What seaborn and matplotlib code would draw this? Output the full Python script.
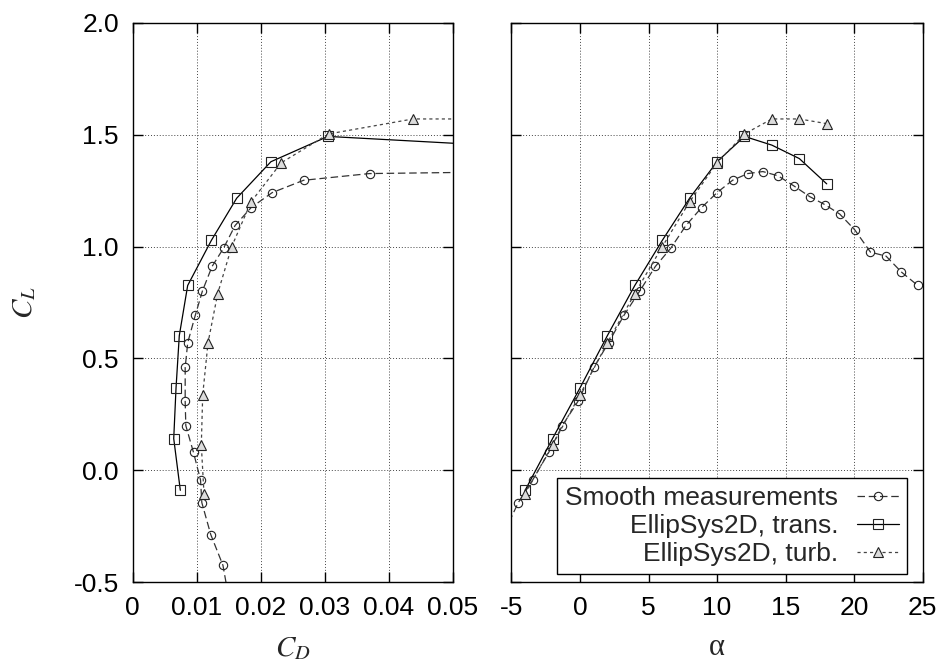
import numpy as np
import pandas as pd
import seaborn as sns
import matplotlib.pyplot as plt
from matplotlib.ticker import FuncFormatter

nan = np.nan

# Smooth measurements
meas_alpha = [-7.8, -6.7, -5.6, -4.5, -3.45, -2.28, -1.29, -0.15, 1.02, 2.09,
              3.23, 4.37, 5.5, 6.63, 7.73, 8.87, 10.0, 11.13, 12.24, 13.34,
              14.45, 15.6, 16.76, 17.9, 18.95, 20.04, 21.19, 22.33, 23.45, 24.64]
meas_cl = [-0.60, -0.424, -0.287, -0.144, -0.043, 0.080, 0.200, 0.308, 0.460, 0.571,
           0.695, 0.802, 0.911, 0.993, 1.094, 1.174, 1.241, 1.296, 1.326, 1.335,
           1.316, 1.271, 1.223, 1.186, 1.145, 1.075, 0.975, 0.957, 0.886, 0.826]
meas_cd = [0.0152, 0.0141, 0.0122, 0.0108, 0.0106, 0.0095, 0.0083, 0.0082, 0.0082, 0.0086,
           0.0098, 0.0109, 0.0124, 0.0142, 0.0160, 0.0185, 0.0218, 0.0267, 0.0370, 0.062,
           nan, nan, nan, nan, nan, nan, nan, nan, nan, nan]

# EllipSys2D, transitional
trans_alpha = [-4, -2, 0, 2, 4, 6, 8, 10, 12, 14, 16, 18]
trans_cl = [-0.089, 0.142, 0.368, 0.602, 0.826, 1.027, 1.216, 1.379, 1.492, 1.453, 1.393, 1.280]
trans_cd = [0.00744, 0.00641, 0.00677, 0.00728, 0.00859, 0.01228, 0.01625, 0.0216,
            0.0305, 0.0555, nan, nan]

# EllipSys2D, fully turbulent
turb_alpha = [-4, -2, 0, 2, 4, 6, 8, 10, 12, 14, 16, 18]
turb_cl = [-0.105, 0.114, 0.338, 0.570, 0.790, 0.999, 1.200, 1.374, 1.503, 1.570, 1.570, 1.549]
turb_cd = [0.01114, 0.01072, 0.01094, 0.01177, 0.01328, 0.01546, 0.0185, 0.0232,
           0.0306, 0.0438, 0.062, nan]

labels = ['Smooth measurements', 'EllipSys2D, trans.', 'EllipSys2D, turb.']

df_meas = pd.DataFrame({'alpha': meas_alpha, 'cl': meas_cl, 'cd': meas_cd})
df_trans = pd.DataFrame({'alpha': trans_alpha, 'cl': trans_cl, 'cd': trans_cd})
df_turb = pd.DataFrame({'alpha': turb_alpha, 'cl': turb_cl, 'cd': turb_cd})

sns.set_style('ticks')
plt.rcParams['font.family'] = ['Liberation Sans', 'DejaVu Sans']
plt.rcParams['mathtext.fontset'] = 'stix'
plt.rcParams['axes.unicode_minus'] = False
plt.rcParams['axes.axisbelow'] = True

styles = [
    dict(color='#333333', linestyle=(0, (6, 3)), marker='o', markersize=6,
         markerfacecolor='none', markeredgecolor='#222222', markeredgewidth=0.8),
    dict(color='black', linestyle='-', marker='s', markersize=7,
         markerfacecolor='none', markeredgecolor='#222222', markeredgewidth=0.8),
    dict(color='#444444', linestyle=(0, (2.5, 2.5)), marker='^', markersize=6.5,
         markerfacecolor='#dcdcdc', markeredgecolor='#222222', markeredgewidth=0.8),
]
frames = [df_meas, df_trans, df_turb]

fig = plt.figure(figsize=(9.41, 6.66), dpi=100)
bottom = 1 - 582.3 / 666
height = 559.6 / 666
ax1 = fig.add_axes([132.7 / 941, bottom, 320 / 941, height])
ax2 = fig.add_axes([511.4 / 941, bottom, 411.3 / 941, height])

for df, st, lab in zip(frames, styles, labels):
    sns.lineplot(data=df.dropna(subset=['cd']), x='cd', y='cl', sort=False,
                 estimator=None, ax=ax1, linewidth=0.9, **st)
    sns.lineplot(data=df, x='alpha', y='cl', sort=False, estimator=None,
                 ax=ax2, linewidth=0.9, label=lab, **st)

for ax in (ax1, ax2):
    ax.set_ylim(-0.5, 2.0)
    ax.set_yticks(np.arange(-0.5, 2.01, 0.5))
    ax.grid(True, linestyle=(0, (1, 2)), color='#444444', linewidth=0.7)
    ax.tick_params(direction='in', length=7, width=1, top=True, right=True,
                   labelsize=19, pad=10, colors='black')
    for sp in ax.spines.values():
        sp.set_linewidth(1.0)
        sp.set_color('black')

ax1.set_xlim(0, 0.05)
ax1.set_xticks(np.arange(0, 0.0501, 0.01))
ax1.xaxis.set_major_formatter(FuncFormatter(lambda v, p: '%g' % round(v, 3)))
ax1.yaxis.set_major_formatter(FuncFormatter(lambda v, p: '%.1f' % v))
ax1.set_xlabel(r'$C_D$', fontsize=21, labelpad=10)
ax1.set_ylabel(r'$C_L$', fontsize=21)
ax1.yaxis.set_label_coords(-0.296, 0.5)

ax2.set_xlim(-5, 25)
ax2.set_xticks(np.arange(-5, 26, 5))
ax2.tick_params(labelleft=False)
ax2.set_xlabel('α', fontsize=22, family=['Liberation Serif', 'DejaVu Serif'], labelpad=9)
ax2.set_ylabel('')

leg = ax2.legend(loc='lower right', bbox_to_anchor=(0.961, 0.0148), borderaxespad=0,
                 markerfirst=False, fontsize=19, frameon=True, fancybox=False,
                 framealpha=1, edgecolor='black', handlelength=1.6, handletextpad=0.7,
                 labelspacing=0.15, borderpad=0.3)
leg.get_frame().set_linewidth(1.0)

fig.savefig('out.png', dpi=100)
